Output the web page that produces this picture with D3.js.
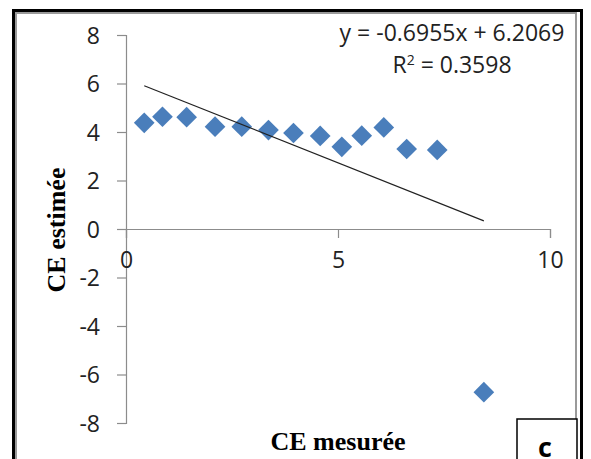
<!DOCTYPE html>
<html><head><meta charset="utf-8">
<script src="https://cdn.jsdelivr.net/npm/d3@7"></script>
<style>body{margin:0;background:#fff}svg{display:block}</style>
</head><body>
<svg id="c" width="591" height="459"></svg>
<script>
const xValues = [0.43,0.86,1.43,2.10,2.73,3.36,3.95,4.58,5.09,5.56,6.08,6.62,7.34,8.44];
const yValues = [4.38,4.63,4.61,4.22,4.22,4.08,3.96,3.84,3.39,3.85,4.19,3.30,3.26,-6.73];
const xTicks = [0,5,10];
const yTicks = [8,6,4,2,0,-2,-4,-6,-8];
const trendSlope = -0.6955, trendIntercept = 6.2069;
const eqLabel = "y = -0.6955x + 6.2069";
const r2Value = "0.3598";
const xTitle = "CE mesurée", yTitle = "CE estimée", panelLabel = "c";

const svg = d3.select("#c");
const sans = "'Open Sans', sans-serif";
const serif = "'Liberation Serif', 'Times New Roman', serif";

// frame
svg.append("rect").attr("x",16).attr("y",13).attr("width",560).attr("height",470)
  .attr("fill","none").attr("stroke","#9a9a9a").attr("stroke-width",2);
svg.append("rect").attr("x",13.5).attr("y",10.5).attr("width",568).attr("height",470)
  .attr("fill","none").attr("stroke","#000").attr("stroke-width",3);

const x = d3.scaleLinear().domain([0,10]).range([126,550]);
const y = d3.scaleLinear().domain([8,-8]).range([35,423]);
const fmt = d => String(d);

// y axis
const yAxis = svg.append("g").attr("transform",`translate(${x(0)},0)`)
  .call(d3.axisLeft(y).tickValues(yTicks).tickSize(9).tickPadding(17).tickFormat(fmt));
// x axis
const xAxis = svg.append("g").attr("transform",`translate(0,${y(0)})`)
  .call(d3.axisBottom(x).tickValues(xTicks).tickSize(9).tickPadding(14).tickFormat(fmt));
[yAxis,xAxis].forEach(a=>{
  a.select(".domain").attr("stroke","#8c8c8c").attr("stroke-width",1.2);
  a.selectAll(".tick line").attr("stroke","#8c8c8c").attr("stroke-width",1.2);
  a.selectAll(".tick text").attr("fill","#222").style("font-family",sans).style("font-size","23px");
});
yAxis.selectAll(".tick text").attr("dy","0.36em");

// points
svg.append("g").selectAll("path").data(xValues).join("path")
  .attr("d", d3.symbol(d3.symbolSquare, 214))
  .attr("transform",(d,i)=>`translate(${x(d)},${y(yValues[i])}) rotate(45)`)
  .attr("fill","#4a7ebb");

// trend line
const x0 = d3.min(xValues), x1 = d3.max(xValues);
svg.append("line")
  .attr("x1",x(x0)).attr("y1",y(trendSlope*x0+trendIntercept))
  .attr("x2",x(x1)).attr("y2",y(trendSlope*x1+trendIntercept))
  .attr("stroke","#222").attr("stroke-width",1.2);

// equation
svg.append("text").attr("x",452).attr("y",41).attr("text-anchor","middle")
  .style("font-family",sans).style("font-size","23px").attr("fill","#222").text(eqLabel);
const r2 = svg.append("text").attr("x",452).attr("y",73).attr("text-anchor","middle")
  .style("font-family",sans).style("font-size","23px").attr("fill","#222");
r2.append("tspan").text("R");
r2.append("tspan").attr("dy",-8).style("font-size","14px").text("2");
r2.append("tspan").attr("dy",8).text(" = " + r2Value);

// axis titles
svg.append("text").attr("x",338).attr("y",450).attr("text-anchor","middle")
  .style("font-family",serif).style("font-size","26px").style("font-weight","bold").attr("fill","#000").text(xTitle);
svg.append("text").attr("transform","translate(65,230) rotate(-90)").attr("text-anchor","middle")
  .style("font-family",serif).style("font-size","26px").style("font-weight","bold").attr("fill","#000").text(yTitle);

// panel label box
svg.append("rect").attr("x",517).attr("y",419).attr("width",60).attr("height",60)
  .attr("fill","#fff").attr("stroke","#000").attr("stroke-width",1.5);
svg.append("text").attr("x",545).attr("y",457).attr("text-anchor","middle")
  .style("font-family",sans).style("font-size","27px").style("font-weight","bold").attr("fill","#000").text(panelLabel);
</script>
</body></html>
